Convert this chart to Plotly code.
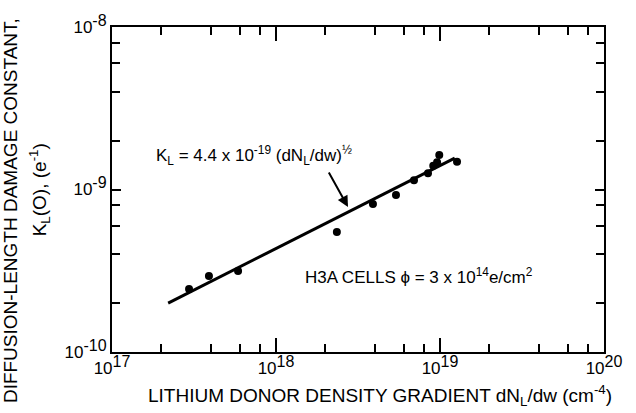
import plotly.graph_objects as go

# Data
gradient = [2.95e17, 3.90e17, 5.87e17, 2.35e18, 3.90e18, 5.39e18, 6.94e18,
            8.45e18, 9.10e18, 9.60e18, 9.90e18, 1.27e19]
damage_k = [2.44e-10, 2.94e-10, 3.15e-10, 5.47e-10, 8.14e-10, 9.25e-10, 1.14e-9,
            1.26e-9, 1.40e-9, 1.47e-9, 1.63e-9, 1.48e-9]
fit_x = [2.20e17, 1.23e19]
fit_y = [2.00e-10, 1.56e-9]

x_major = [1e17, 1e18, 1e19, 1e20]
x_exps = ["17", "18", "19", "20"]
x_minor = [m * 10.0**e for e in (17, 18, 19) for m in (2, 4, 6, 8)]
y_major = [1e-10, 1e-9, 1e-8]
y_exps = ["-10", "-9", "-8"]
y_minor = [m * 10.0**e for e in (-10, -9) for m in (2, 4, 6, 8)]

def power_label(exp):
    return "10<sup><span style='font-size:16px'>%s</span></sup>" % exp

FONT = "Liberation Sans, Arial, sans-serif"

fig = go.Figure()
fig.add_trace(go.Scatter(x=fit_x, y=fit_y, mode="lines",
                         line=dict(color="black", width=3), showlegend=False))
fig.add_trace(go.Scatter(x=gradient, y=damage_k, mode="markers",
                         marker=dict(color="black", size=8), showlegend=False))

axis_common = dict(type="log", showgrid=False, zeroline=False, showline=True,
                   linecolor="black", linewidth=2, mirror="allticks",
                   ticks="inside", tickcolor="black", tickwidth=2,
                   tickfont=dict(family=FONT, size=17, color="black"))

fig.update_xaxes(**axis_common, range=[17, 20], tickvals=x_major,
                 ticktext=[power_label(e) for e in x_exps], ticklen=14,
                 minor=dict(tickvals=x_minor, ticks="inside", ticklen=8,
                            tickcolor="black", tickwidth=2))
fig.update_yaxes(**axis_common, range=[-10, -8], tickvals=y_major,
                 ticktext=[power_label(e) for e in y_exps], ticklen=9,
                 minor=dict(tickvals=y_minor, ticks="inside", ticklen=8,
                            tickcolor="black", tickwidth=2))

fig.add_annotation(x=0.545, y=-0.133, xref="paper", yref="paper", showarrow=False,
                   xanchor="center", yanchor="middle",
                   text="LITHIUM DONOR DENSITY GRADIENT dN<sub>L</sub>/dw (cm<sup>-4</sup>)",
                   font=dict(family=FONT, size=19, color="black"))
fig.add_annotation(x=-0.205, y=0.434, xref="paper", yref="paper", showarrow=False,
                   textangle=-90, xanchor="center", yanchor="middle",
                   text="DIFFUSION-LENGTH DAMAGE CONSTANT,",
                   font=dict(family=FONT, size=19, color="black"))
fig.add_annotation(x=-0.148, y=0.498, xref="paper", yref="paper", showarrow=False,
                   textangle=-90, xanchor="center", yanchor="middle",
                   text="K<sub>L</sub>(O), (e<sup>-1</sup>)",
                   font=dict(family=FONT, size=19, color="black"))

# fit-equation label and its arrow
fig.add_annotation(x=17.866, y=-8.79, xref="x", yref="y", showarrow=False,
                   xanchor="center", yanchor="middle",
                   text="K<sub>L</sub> = 4.4 x 10<sup>-19</sup> (dN<sub>L</sub>/dw)<sup>½</sup>",
                   font=dict(family=FONT, size=17, color="black"))
fig.add_annotation(x=18.439, y=-9.108, xref="x", yref="y", text="",
                   showarrow=True, arrowhead=2, arrowsize=1.1, arrowwidth=2,
                   arrowcolor="black", ax=-20, ay=-36)
fig.add_annotation(x=18.165, y=-9.535, xref="x", yref="y", showarrow=False,
                   xanchor="left", yanchor="middle",
                   text="H3A CELLS \u03d5 = 3 x 10<sup>14</sup>e/cm<sup>2</sup>",
                   font=dict(family=FONT, size=17, color="black"))

fig.update_layout(width=636, height=413, margin=dict(l=112, r=32, t=27, b=61),
                  plot_bgcolor="white", paper_bgcolor="white")
fig.write_html("out.html")
